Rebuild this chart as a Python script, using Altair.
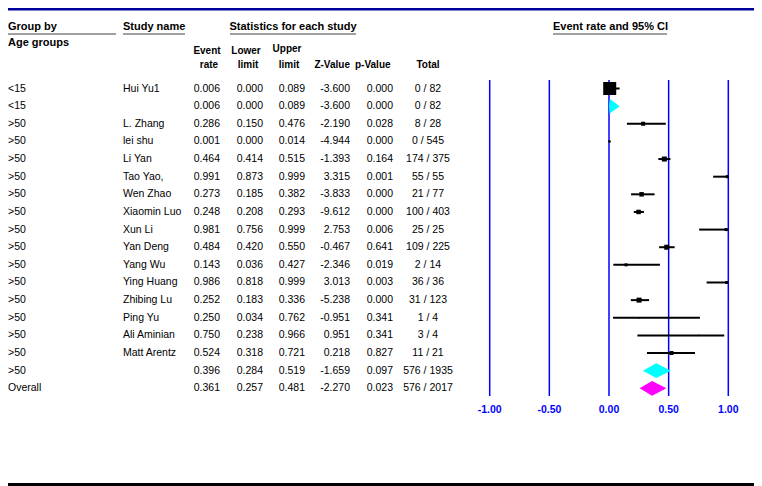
import altair as alt
import pandas as pd

# ---------------- data ----------------
groups = ["<15", "<15", ">50", ">50", ">50", ">50", ">50", ">50", ">50", ">50",
          ">50", ">50", ">50", ">50", ">50", ">50", ">50", "Overall"]
studies = ["Hui Yu1", "", "L. Zhang", "lei shu", "Li Yan", "Tao Yao,", "Wen Zhao",
           "Xiaomin Luo", "Xun Li", "Yan Deng", "Yang Wu", "Ying Huang", "Zhibing Lu",
           "Ping Yu", "Ali Aminian", "Matt Arentz", "", ""]
event_rate = [0.006, 0.006, 0.286, 0.001, 0.464, 0.991, 0.273, 0.248, 0.981, 0.484,
              0.143, 0.986, 0.252, 0.250, 0.750, 0.524, 0.396, 0.361]
lower = [0.000, 0.000, 0.150, 0.000, 0.414, 0.873, 0.185, 0.208, 0.756, 0.420,
         0.036, 0.818, 0.183, 0.034, 0.238, 0.318, 0.284, 0.257]
upper = [0.089, 0.089, 0.476, 0.014, 0.515, 0.999, 0.382, 0.293, 0.999, 0.550,
         0.427, 0.999, 0.336, 0.762, 0.966, 0.721, 0.519, 0.481]
z_value = [-3.600, -3.600, -2.190, -4.944, -1.393, 3.315, -3.833, -9.612, 2.753, -0.467,
           -2.346, 3.013, -5.238, -0.951, 0.951, 0.218, -1.659, -2.270]
p_value = [0.000, 0.000, 0.028, 0.000, 0.164, 0.001, 0.000, 0.000, 0.006, 0.641,
           0.019, 0.003, 0.000, 0.341, 0.341, 0.827, 0.097, 0.023]
events = [0, 0, 8, 0, 174, 55, 21, 100, 25, 109, 2, 36, 31, 1, 3, 11, 576, 576]
totals = [82, 82, 28, 545, 375, 55, 77, 403, 25, 225, 14, 36, 123, 4, 4, 21, 1935, 2017]
row_kind = ["study", "sub", "study", "study", "study", "study", "study", "study",
            "study", "study", "study", "study", "study", "study", "study", "study",
            "sub", "overall"]
box_side = [13, 0, 4, 2, 5, 3, 4.5, 4.5, 3, 5, 3, 3, 5, 1.5, 1.5, 4, 0, 0]
axis_ticks = [-1.0, -0.5, 0.0, 0.5, 1.0]
axis_labels = ["-1.00", "-0.50", "0.00", "0.50", "1.00"]

# ---------------- tables ----------------
n = len(groups)
df = pd.DataFrame({
    "row": list(range(n)),
    "group": groups,
    "study": studies,
    "er": event_rate,
    "lo": lower,
    "hi": upper,
    "kind": row_kind,
    "box": [s * s for s in box_side],
})
df["er_s"] = [f"{v:.3f}" for v in event_rate]
df["lo_s"] = [f"{v:.3f}" for v in lower]
df["hi_s"] = [f"{v:.3f}" for v in upper]
df["z_s"] = [f"{v:.3f}" for v in z_value]
df["p_s"] = [f"{v:.3f}" for v in p_value]
df["tot_s"] = [f"{e} / {t}" for e, t in zip(events, totals)]

studies_df = df[df["kind"] == "study"]

half = 0.42  # diamond half-height in row units
dia_rows = []
for _, r in df[df["kind"] != "study"].iterrows():
    dia_rows.append({"id": r["row"], "kind": r["kind"], "x": r["lo"], "y": r["row"], "y2": r["row"]})
    dia_rows.append({"id": r["row"], "kind": r["kind"], "x": r["er"], "y": r["row"] - half, "y2": r["row"] + half})
    dia_rows.append({"id": r["row"], "kind": r["kind"], "x": r["hi"], "y": r["row"], "y2": r["row"]})
dia_df = pd.DataFrame(dia_rows)

tick_df = pd.DataFrame({"t": axis_ticks, "lab": axis_labels})

# ---------------- scales ----------------
FONT = "Liberation Sans"
xs = alt.Scale(domain=[-1, 1], range=[481.7, 720.3], nice=False, zero=False)
ys = alt.Scale(domain=[0, 17], range=[80.5, 380.3], nice=False, zero=False)
X = lambda f: alt.X(f, type="quantitative", scale=xs, axis=None)
Y = lambda f: alt.Y(f, type="quantitative", scale=ys, axis=None)

base = alt.Chart(df)

layers = []

# blue reference lines
layers.append(alt.Chart(tick_df).mark_rule(color="#0000FF", strokeWidth=1.5).encode(
    x=X("t"), y=alt.value(72), y2=alt.value(388)))
layers.append(alt.Chart(tick_df).mark_text(color="#0000FF", fontWeight="bold", fontSize=10.5,
                                           font=FONT, baseline="middle").encode(
    x=X("t"), y=alt.value(402), text="lab:N"))

# CI lines and boxes
layers.append(alt.Chart(studies_df).mark_rule(color="black", strokeWidth=2).encode(
    x=X("lo"), x2="hi", y=Y("row")))
layers.append(alt.Chart(studies_df).mark_square(color="black", opacity=1).encode(
    x=X("er"), y=Y("row"), size=alt.Size("box:Q", scale=None, legend=None)))

# diamonds
layers.append(alt.Chart(dia_df).mark_area(opacity=1).encode(
    x=X("x"), y=Y("y"), y2="y2", detail="id:N",
    color=alt.Color("kind:N", scale=alt.Scale(domain=["sub", "overall"],
                                              range=["#00FFFF", "#FF00FF"]), legend=None)))

# table columns
def col(field, px, align):
    return base.mark_text(font=FONT, fontSize=10.5, align=align, baseline="middle",
                          color="black").encode(x=alt.value(px), y=Y("row"), text=f"{field}:N")

layers += [
    col("group", 0, "left"),
    col("study", 115, "left"),
    col("er_s", 212, "right"),
    col("lo_s", 255, "right"),
    col("hi_s", 297, "right"),
    col("z_s", 342, "right"),
    col("p_s", 385, "right"),
    col("tot_s", 420, "center"),
]

# headers
def htext(txt, px, py, align="center", size=10.5):
    return alt.Chart(pd.DataFrame({"t": [txt]})).mark_text(
        font=FONT, fontSize=size, fontWeight="bold", align=align, baseline="middle",
        color="black").encode(x=alt.value(px), y=alt.value(py), text="t:N")

def uline(x1, x2, py):
    return alt.Chart(pd.DataFrame({"a": [0]})).mark_rule(color="#808080", strokeWidth=1.5).encode(
        x=alt.value(x1), x2=alt.value(x2), y=alt.value(py))

layers += [
    htext("Group by", 0, 19, "left", 11),
    uline(0, 108, 26),
    htext("Study name", 115, 19, "left", 11),
    uline(115, 177, 26),
    htext("Statistics for each study", 285, 19, "center", 11),
    uline(222, 348, 26),
    htext("Event rate and 95% CI", 602.5, 19, "center", 11),
    uline(545, 659, 26),
    htext("Age groups", 0, 34.5, "left", 11),
    htext("Event", 199, 43, "center", 10),
    htext("Lower", 238, 43, "center", 10),
    htext("Upper", 279, 41, "center", 10),
    htext("rate", 201, 57, "center", 10),
    htext("limit", 240, 57, "center", 10),
    htext("limit", 281, 57, "center", 10),
    htext("Z-Value", 342, 57, "right", 10),
    htext("p-Value", 347, 57, "left", 10),
    htext("Total", 420, 57, "center", 10),
]

# frame lines
layers.append(alt.Chart(pd.DataFrame({"a": [0]})).mark_rule(color="#0000A0", strokeWidth=3).encode(
    x=alt.value(0), x2=alt.value(746), y=alt.value(1)))
layers.append(alt.Chart(pd.DataFrame({"a": [0]})).mark_rule(color="black", strokeWidth=3).encode(
    x=alt.value(0), x2=alt.value(746), y=alt.value(476.5)))

chart = alt.layer(*layers).properties(
    width=746, height=478, padding=0, autosize=alt.AutoSizeParams(type="none"),
    background="white",
).configure_view(stroke=None)

chart.save("out.html", embed_options={"renderer": "svg", "actions": False})
